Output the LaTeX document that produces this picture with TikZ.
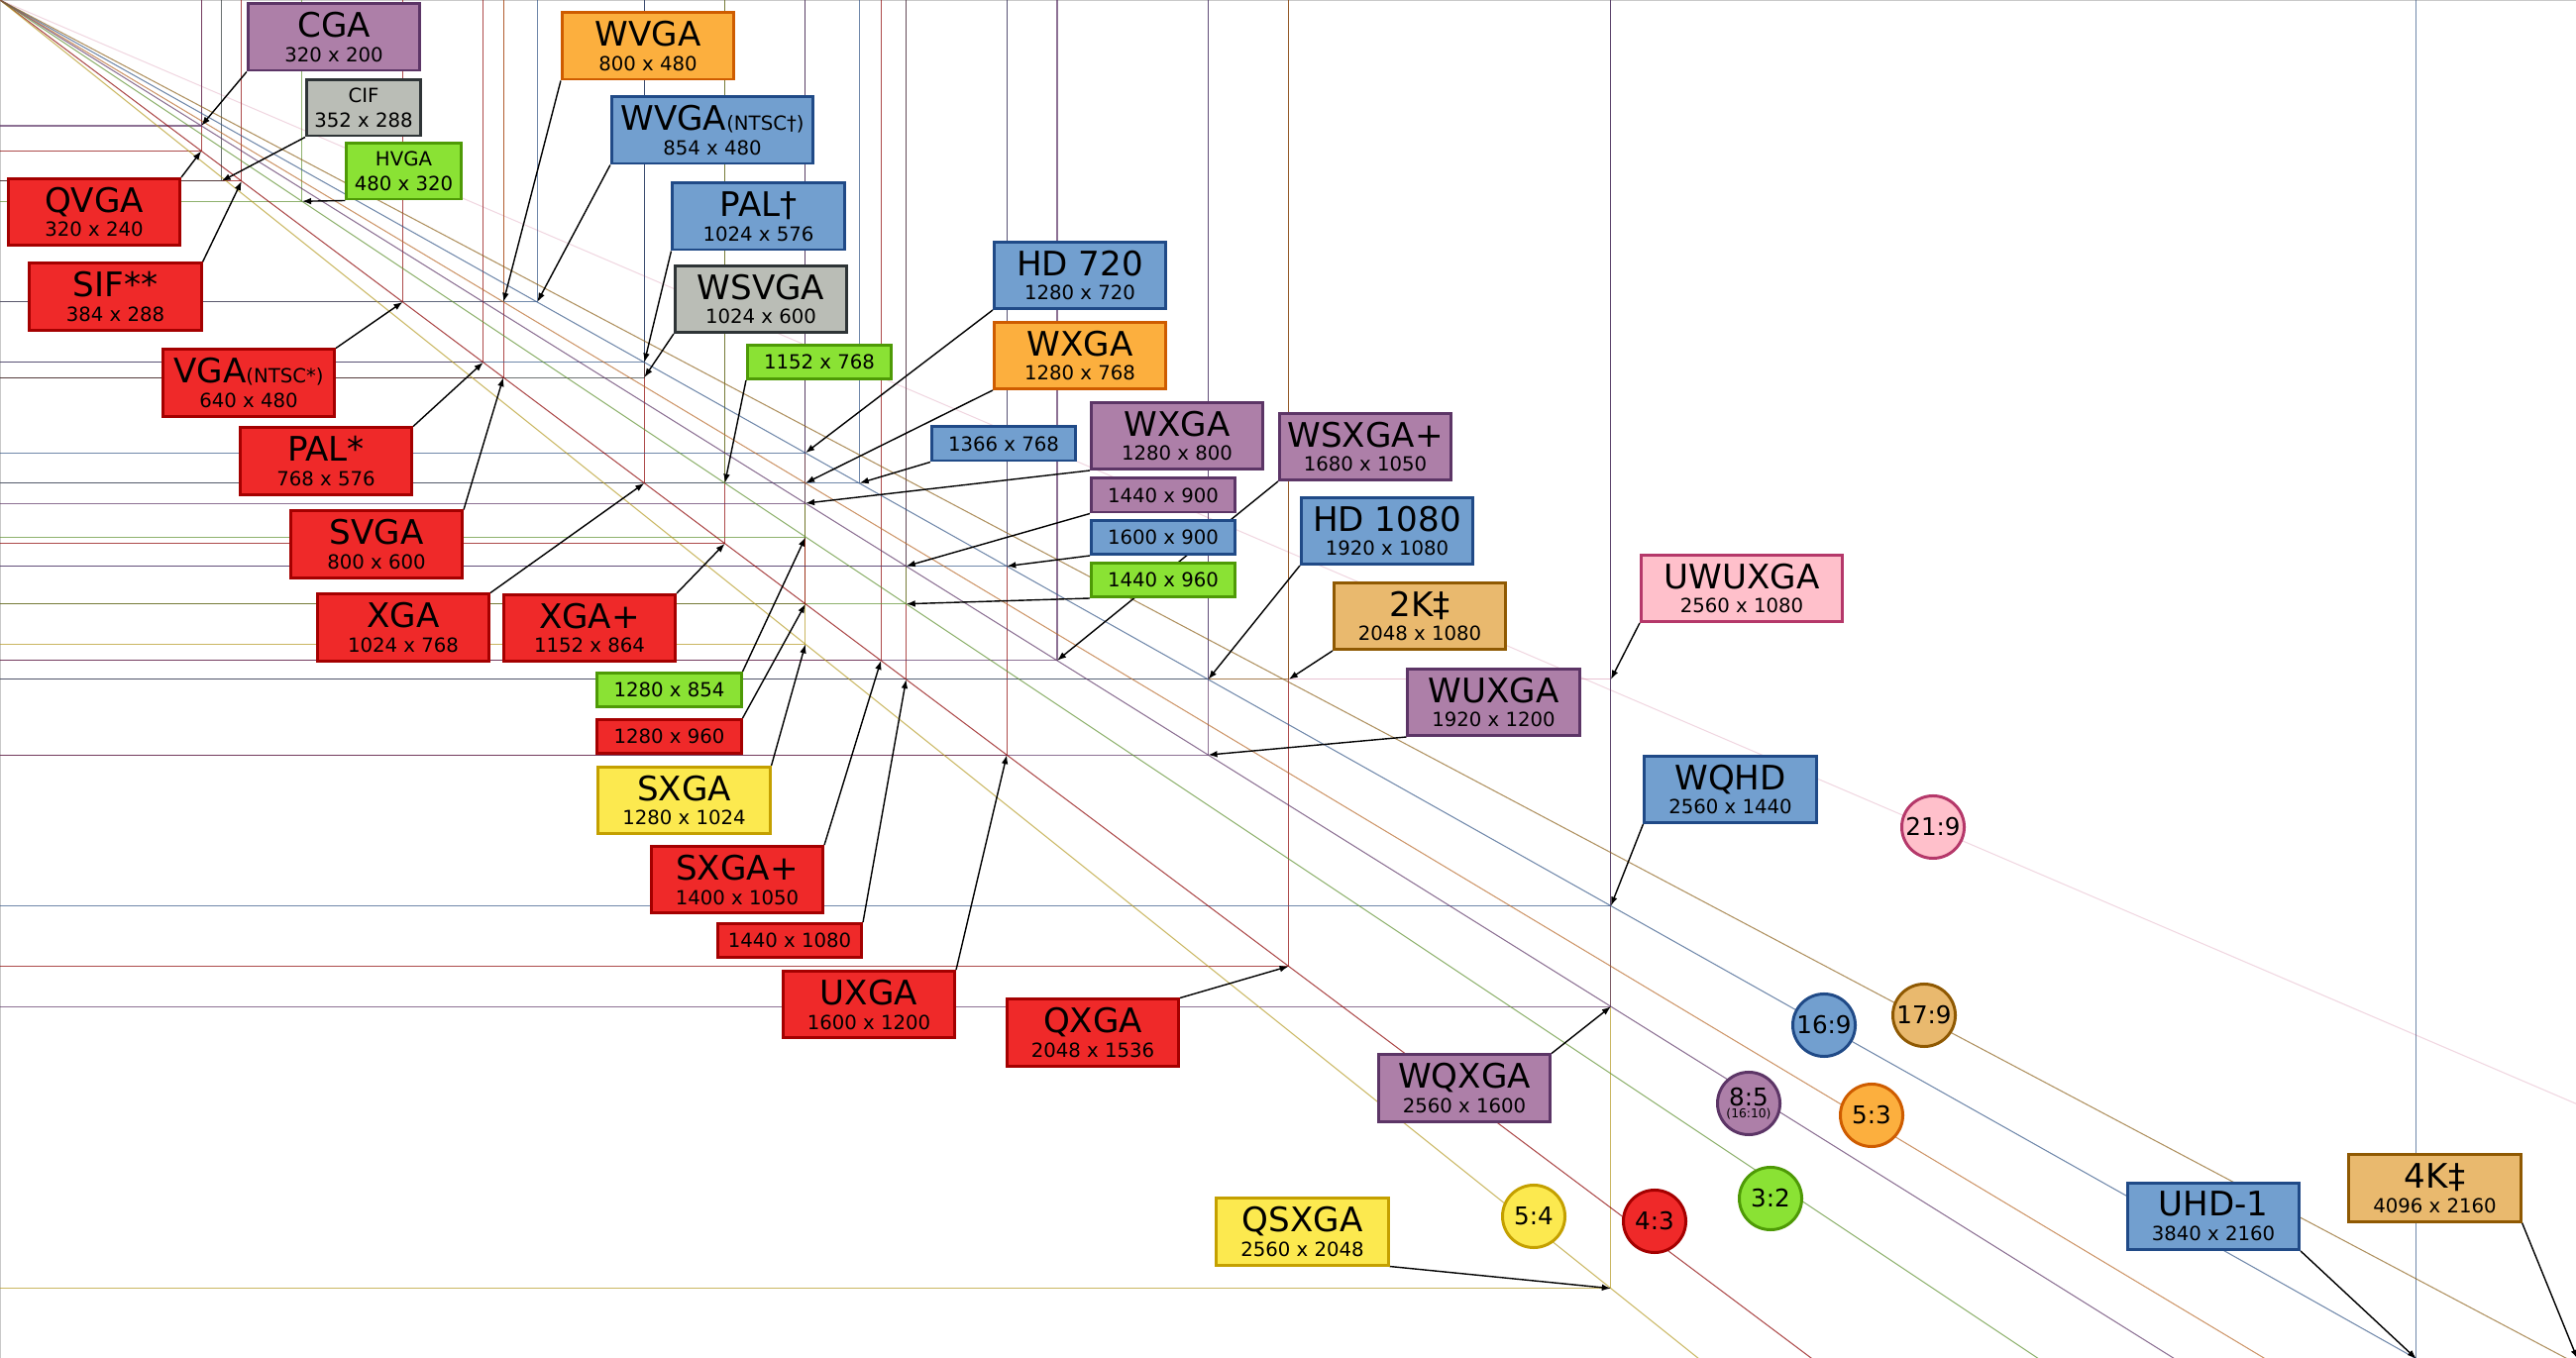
\documentclass[tikz,border=0pt]{standalone}
\usepackage{fontspec}
\setmainfont{DejaVu Sans}
\usetikzlibrary{arrows.meta,positioning}

% tango palette
\definecolor{redfill}{HTML}{EF2929}\definecolor{redline}{HTML}{A40000}
\definecolor{plumfill}{HTML}{AD7FA8}\definecolor{plumline}{HTML}{5C3566}
\definecolor{alufill}{HTML}{BABDB6}\definecolor{aluline}{HTML}{2E3436}
\definecolor{greenfill}{HTML}{8AE234}\definecolor{greenline}{HTML}{4E9A06}
\definecolor{orangefill}{HTML}{FCAF3E}\definecolor{orangeline}{HTML}{CE5C00}
\definecolor{bluefill}{HTML}{729FCF}\definecolor{blueline}{HTML}{204A87}
\definecolor{butterfill}{HTML}{FCE94F}\definecolor{butterline}{HTML}{C4A000}
\definecolor{chocfill}{HTML}{E9B96E}\definecolor{chocline}{HTML}{8F5902}
\definecolor{pinkfill}{HTML}{FFC0CB}\definecolor{pinkline}{HTML}{B5386A}
% muted grid colours
\colorlet{gridred}{redline!85!black}
\colorlet{gridplum}{plumline}
\colorlet{gridalu}{aluline}
\colorlet{gridgreen}{greenline!65!gray}
\colorlet{gridorange}{orangeline!70!gray}
\colorlet{gridblue}{blueline!80!gray}
\colorlet{gridbutter}{butterline!75!gray}
\colorlet{gridchoc}{chocline!80!gray}
\colorlet{gridpink}{pinkline}

\pgfdeclarelayer{grid}
\pgfdeclarelayer{links}
\pgfsetlayers{grid,links,main}

\newcommand{\resname}[1]{{\fontsize{9.7}{7.1}\selectfont #1}}
\newcommand{\ntsc}[1]{{\fontsize{5.6}{7.1}\selectfont #1}}

\begin{document}
\begin{tikzpicture}[
x=0.01cm, y=-0.01cm,
box/.style={draw, line width=0.85pt, align=center, inner sep=0pt, font=\fontsize{5.6}{7.1}\selectfont},
bigbox/.style={box, minimum width=1.73cm, minimum height=0.67cm},
widebox/.style={bigbox, minimum width=2.03cm},
midbox/.style={box, minimum width=1.15cm, minimum height=0.56cm},
smallbox/.style={box, minimum width=1.45cm, minimum height=0.34cm},
ratio/.style={circle, draw, line width=0.85pt, minimum size=0.63cm, inner sep=0pt, align=center, font=\fontsize{7}{3.4}\selectfont},
ar43/.style={fill=redfill, draw=redline},
ar85/.style={fill=plumfill, draw=plumline},
arother/.style={fill=alufill, draw=aluline},
ar32/.style={fill=greenfill, draw=greenline},
ar53/.style={fill=orangefill, draw=orangeline},
ar169/.style={fill=bluefill, draw=blueline},
ar54/.style={fill=butterfill, draw=butterline},
ar179/.style={fill=chocfill, draw=chocline},
ar219/.style={fill=pinkfill, draw=pinkline},
gridline/.style={line width=0.3pt, opacity=0.7},
arrow/.style={-{Latex[length=2.6pt,width=1.9pt]}, line width=0.4pt}
]
\useasboundingbox (0,0) rectangle (2600,1371);

% resolution grid, in pixels of the standards
\begin{pgfonlayer}{grid}
\begin{scope}[x=0.0063477cm, y=-0.0063477cm]
\draw[gridline, gray!60] (0,0) rectangle (4096,2160);
\foreach \w/\h in {1280/1024, 2560/2048} {
  \coordinate (c\w-\h) at (\w,\h);
  \draw[gridline, gridbutter] (\w,0) -- (\w,\h) -- (0,\h);
}
\coordinate (c2560-1080) at (2560,1080);
\draw[gridline, gridpink, opacity=0.3] (2560,0) -- (2560,1080) -- (0,1080);
\foreach \w/\h in {320/240, 384/288, 640/480, 768/576, 800/600, 1024/768, 1152/864, 1280/960, 1400/1050, 1440/1080, 1600/1200, 2048/1536} {
  \coordinate (c\w-\h) at (\w,\h);
  \draw[gridline, gridred] (\w,0) -- (\w,\h) -- (0,\h);
}
\foreach \w/\h in {352/288, 1024/600} {
  \coordinate (c\w-\h) at (\w,\h);
  \draw[gridline, gridalu] (\w,0) -- (\w,\h) -- (0,\h);
}
\foreach \w/\h in {480/320, 1152/768, 1280/854, 1440/960} {
  \coordinate (c\w-\h) at (\w,\h);
  \draw[gridline, gridgreen] (\w,0) -- (\w,\h) -- (0,\h);
}
\foreach \w/\h in {800/480, 1280/768} {
  \coordinate (c\w-\h) at (\w,\h);
  \draw[gridline, gridorange] (\w,0) -- (\w,\h) -- (0,\h);
}
\foreach \w/\h in {2048/1080, 4096/2160} {
  \coordinate (c\w-\h) at (\w,\h);
  \draw[gridline, gridchoc] (\w,0) -- (\w,\h) -- (0,\h);
}
\foreach \w/\h in {854/480, 1024/576, 1280/720, 1366/768, 1600/900, 1920/1080, 2560/1440, 3840/2160} {
  \coordinate (c\w-\h) at (\w,\h);
  \draw[gridline, gridblue] (\w,0) -- (\w,\h) -- (0,\h);
}
\foreach \w/\h in {320/200, 1280/800, 1440/900, 1680/1050, 1920/1200, 2560/1600} {
  \coordinate (c\w-\h) at (\w,\h);
  \draw[gridline, gridplum] (\w,0) -- (\w,\h) -- (0,\h);
}
% aspect ratio diagonals
\draw[gridline, gridred] (0,0) -- (2880,2160);
\draw[gridline, gridbutter] (0,0) -- (2700,2160);
\draw[gridline, gridgreen] (0,0) -- (3240,2160);
\draw[gridline, gridplum] (0,0) -- (3456,2160);
\draw[gridline, gridorange] (0,0) -- (3600,2160);
\draw[gridline, gridblue] (0,0) -- (3840,2160);
\draw[gridline, gridchoc] (0,0) -- (4080,2160);
\draw[gridline, gridpink, opacity=0.2] (0,0) -- (4096,1755.4);
\end{scope}
\end{pgfonlayer}

% standards
\node[bigbox, ar85] (cga) at (337,37.5) {\resname{CGA}\\320 x 200};
\node[midbox, arother] (cif) at (367,109) {CIF\\352 x 288};
\node[midbox, ar32] (hvga) at (407.5,173) {HVGA\\480 x 320};
\node[bigbox, ar43] (qvga) at (95,214) {\resname{QVGA}\\320 x 240};
\node[bigbox, ar43] (sif) at (116.5,299.5) {\resname{SIF**}\\384 x 288};
\node[bigbox, ar43] (vga) at (251,386.5) {\resname{VGA}\ntsc{(NTSC*)}\\640 x 480};
\node[bigbox, ar43] (pal) at (329,465.5) {\resname{PAL*}\\768 x 576};
\node[bigbox, ar43] (svga) at (380,549.5) {\resname{SVGA}\\800 x 600};
\node[bigbox, ar43] (xga) at (407,633.5) {\resname{XGA}\\1024 x 768};
\node[bigbox, ar43] (xgap) at (595,634) {\resname{XGA+}\\1152 x 864};
\node[bigbox, ar53] (wvga) at (654,46.5) {\resname{WVGA}\\800 x 480};
\node[widebox, ar169] (wvgan) at (719,131.5) {\resname{WVGA}\ntsc{(NTSC†)}\\854 x 480};
\node[bigbox, ar169] (palt) at (765.5,218.5) {\resname{PAL†}\\1024 x 576};
\node[bigbox, arother] (wsvga) at (768,302) {\resname{WSVGA}\\1024 x 600};
\node[smallbox, ar32] (s1152) at (827,365.5) {1152 x 768};
\node[smallbox, ar32] (s1280a) at (675.5,696.5) {1280 x 854};
\node[smallbox, ar43] (s1280b) at (675.5,743.5) {1280 x 960};
\node[bigbox, ar54] (sxga) at (690.5,808) {\resname{SXGA}\\1280 x 1024};
\node[bigbox, ar43] (sxgap) at (744,888) {\resname{SXGA+}\\1400 x 1050};
\node[smallbox, ar43] (s1440a) at (797,949.5) {1440 x 1080};
\node[bigbox, ar43] (uxga) at (877,1014) {\resname{UXGA}\\1600 x 1200};
\node[bigbox, ar43] (qxga) at (1103,1042.5) {\resname{QXGA}\\2048 x 1536};
\node[bigbox, ar169] (hd720) at (1090,278) {\resname{HD 720}\\1280 x 720};
\node[bigbox, ar53] (wxgao) at (1090,359) {\resname{WXGA}\\1280 x 768};
\node[smallbox, ar169] (s1366) at (1013,448) {1366 x 768};
\node[bigbox, ar85] (wxgap) at (1188,440) {\resname{WXGA}\\1280 x 800};
\node[smallbox, ar85] (s1440b) at (1174,500) {1440 x 900};
\node[smallbox, ar169] (s1600) at (1174,542.5) {1600 x 900};
\node[smallbox, ar32] (s1440c) at (1174,585.5) {1440 x 960};
\node[bigbox, ar85] (wsxgap) at (1378,451) {\resname{WSXGA+}\\1680 x 1050};
\node[bigbox, ar169] (hd1080) at (1400,536) {\resname{HD 1080}\\1920 x 1080};
\node[bigbox, ar179] (twok) at (1433,622) {\resname{2K‡}\\2048 x 1080};
\node[bigbox, ar85] (wuxga) at (1507.5,709) {\resname{WUXGA}\\1920 x 1200};
\node[widebox, ar219] (uwuxga) at (1758,594) {\resname{UWUXGA}\\2560 x 1080};
\node[bigbox, ar169] (wqhd) at (1746.5,797) {\resname{WQHD}\\2560 x 1440};
\node[bigbox, ar85] (wqxga) at (1478,1098.5) {\resname{WQXGA}\\2560 x 1600};
\node[bigbox, ar54] (qsxga) at (1314.5,1243.5) {\resname{QSXGA}\\2560 x 2048};
\node[bigbox, ar169] (uhd) at (2234,1228) {\resname{UHD-1}\\3840 x 2160};
\node[bigbox, ar179] (fourk) at (2457.5,1199.5) {\resname{4K‡}\\4096 x 2160};

% aspect ratios
\node[ratio, ar54] (r54) at (1548,1228) {5:4};
\node[ratio, ar43] (r43) at (1670,1233) {4:3};
\node[ratio, ar32] (r32) at (1787,1210) {3:2};
\node[ratio, ar85] (r85) at (1765,1114) {8:5\\{\fontsize{3.5}{3.5}\selectfont (16:10)}};
\node[ratio, ar53] (r53) at (1889,1126) {5:3};
\node[ratio, ar169] (r169) at (1841,1035) {16:9};
\node[ratio, ar179] (r179) at (1942,1025) {17:9};
\node[ratio, ar219] (r219) at (1951,835) {21:9};

\begin{pgfonlayer}{links}
\draw[arrow] (cga.south west) -- (c320-200);
\draw[arrow] (cif.south west) -- (c352-288);
\draw[arrow] (hvga.south west) -- (c480-320);
\draw[arrow] (qvga.north east) -- (c320-240);
\draw[arrow] (sif.north east) -- (c384-288);
\draw[arrow] (vga.north east) -- (c640-480);
\draw[arrow] (pal.north east) -- (c768-576);
\draw[arrow] (svga.north east) -- (c800-600);
\draw[arrow] (xga.north east) -- (c1024-768);
\draw[arrow] (xgap.north east) -- (c1152-864);
\draw[arrow] (wvga.south west) -- (c800-480);
\draw[arrow] (wvgan.south west) -- (c854-480);
\draw[arrow] (palt.south west) -- (c1024-576);
\draw[arrow] (wsvga.south west) -- (c1024-600);
\draw[arrow] (s1152.south west) -- (c1152-768);
\draw[arrow] (s1280a.north east) -- (c1280-854);
\draw[arrow] (s1280b.north east) -- (c1280-960);
\draw[arrow] (sxga.north east) -- (c1280-1024);
\draw[arrow] (sxgap.north east) -- (c1400-1050);
\draw[arrow] (s1440a.north east) -- (c1440-1080);
\draw[arrow] (uxga.north east) -- (c1600-1200);
\draw[arrow] (qxga.north east) -- (c2048-1536);
\draw[arrow] (hd720.south west) -- (c1280-720);
\draw[arrow] (wxgao.south west) -- (c1280-768);
\draw[arrow] (s1366.south west) -- (c1366-768);
\draw[arrow] (wxgap.south west) -- (c1280-800);
\draw[arrow] (s1440b.south west) -- (c1440-900);
\draw[arrow] (s1600.south west) -- (c1600-900);
\draw[arrow] (s1440c.south west) -- (c1440-960);
\draw[arrow] (wsxgap.south west) -- (c1680-1050);
\draw[arrow] (hd1080.south west) -- (c1920-1080);
\draw[arrow] (twok.south west) -- (c2048-1080);
\draw[arrow] (wuxga.south west) -- (c1920-1200);
\draw[arrow] (uwuxga.south west) -- (c2560-1080);
\draw[arrow] (wqhd.south west) -- (c2560-1440);
\draw[arrow] (wqxga.north east) -- (c2560-1600);
\draw[arrow] (qsxga.south east) -- (c2560-2048);
\draw[arrow] (uhd.south east) -- (c3840-2160);
\draw[arrow] (fourk.south east) -- (c4096-2160);
\end{pgfonlayer}
\end{tikzpicture}
\end{document}
